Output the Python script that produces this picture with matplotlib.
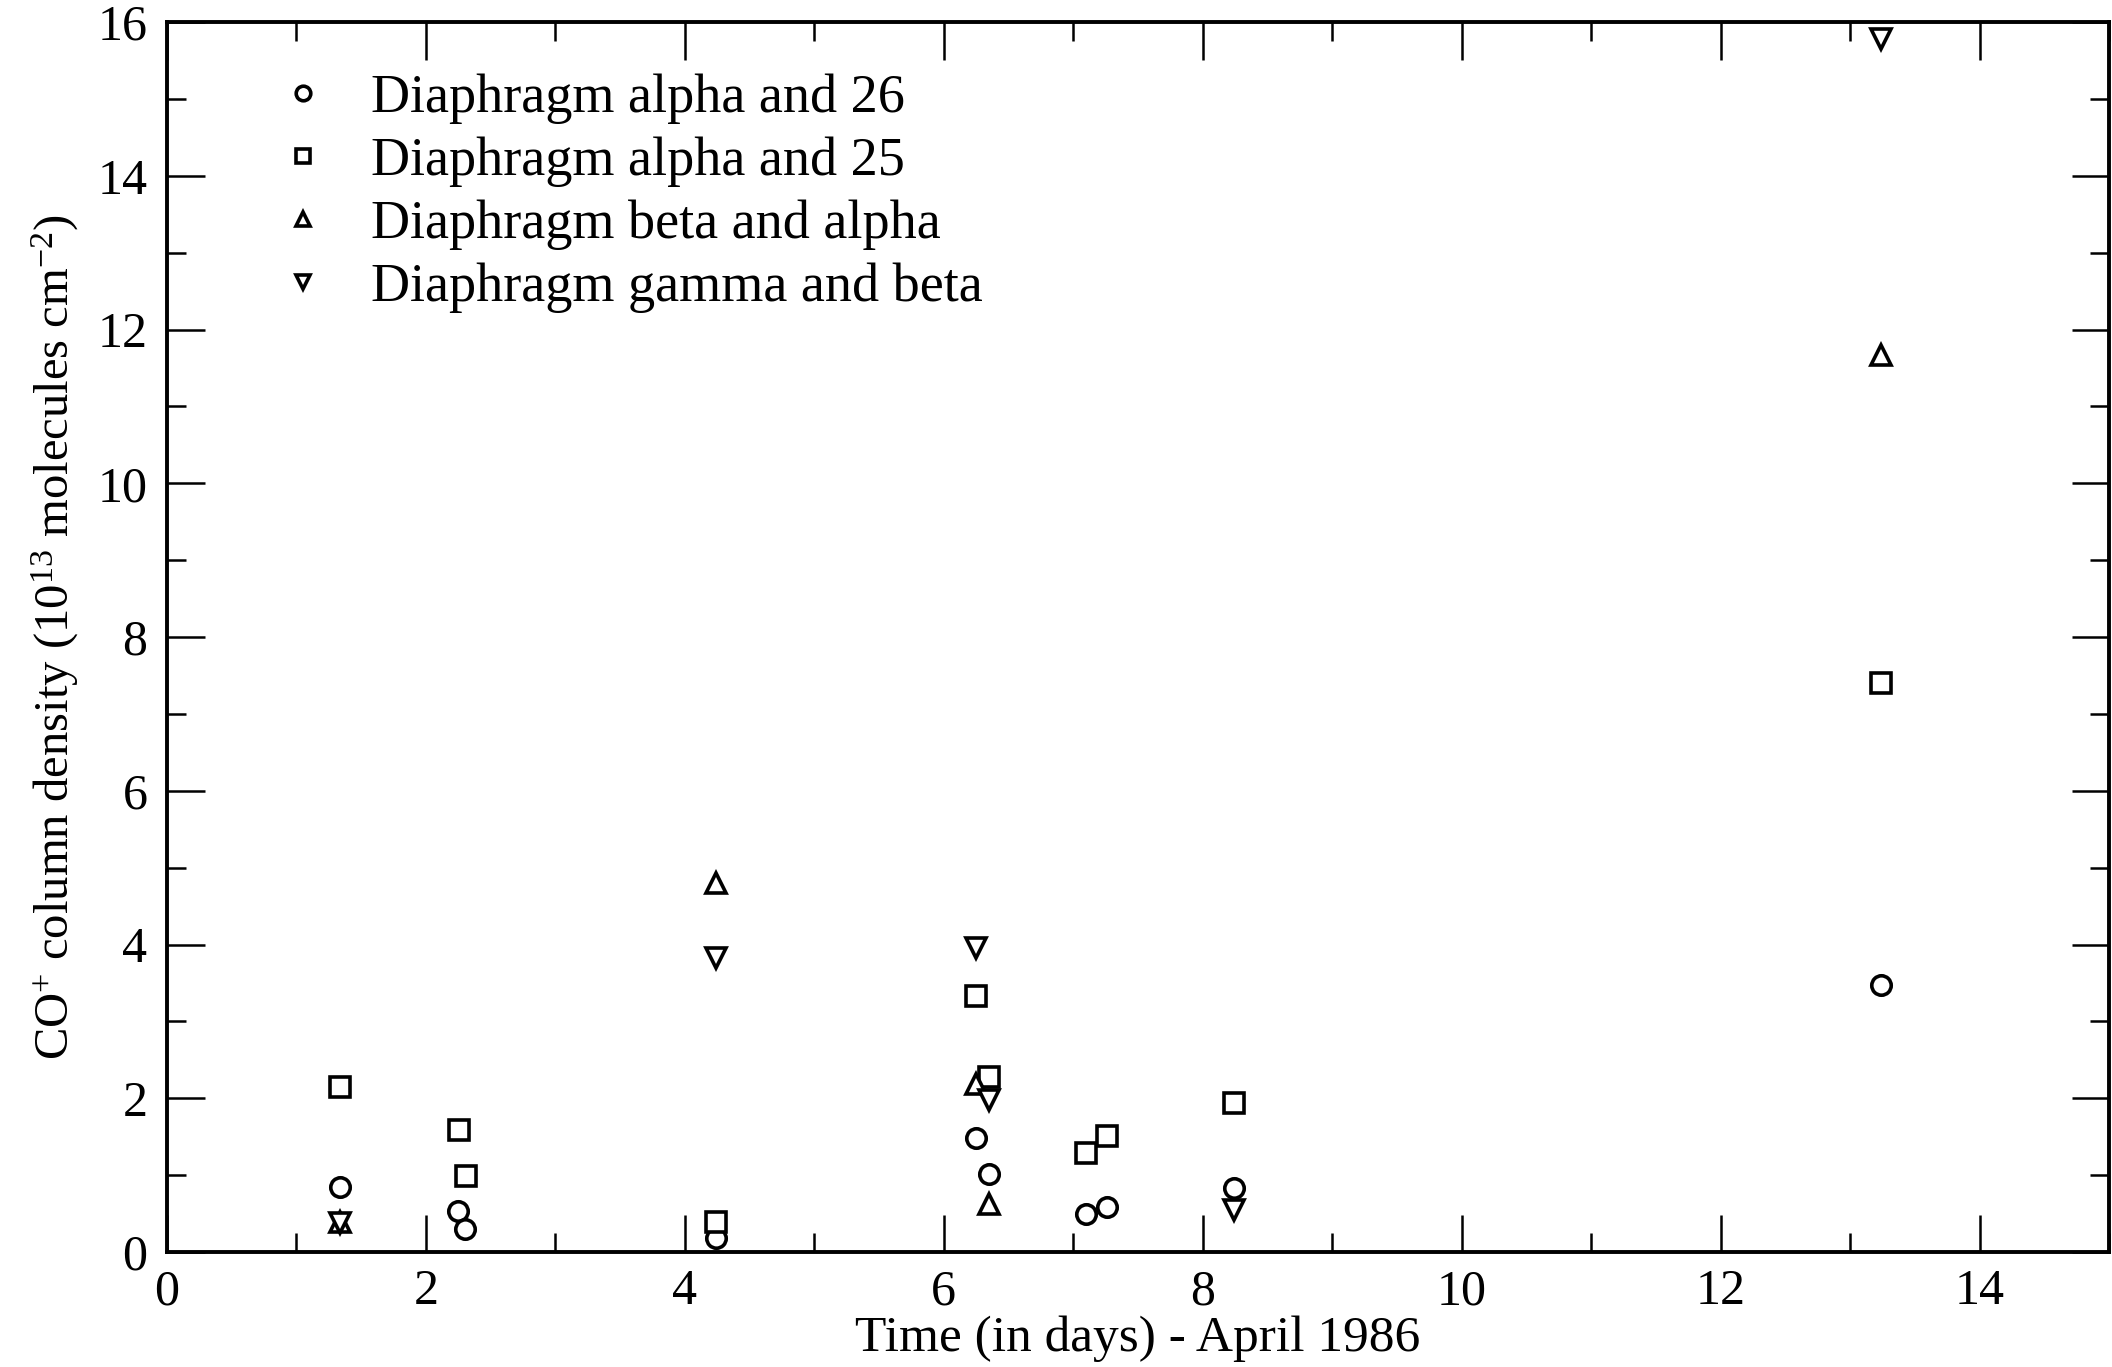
import matplotlib
matplotlib.use("Agg")
import matplotlib.pyplot as plt
from matplotlib.ticker import MultipleLocator

plt.rcParams['font.family'] = ['Liberation Serif', 'DejaVu Serif']
plt.rcParams['mathtext.fontset'] = 'custom'
plt.rcParams['mathtext.rm'] = 'Liberation Serif'
plt.rcParams['mathtext.it'] = 'Liberation Serif:italic'

# CO+ column densities per diaphragm pair (1e13 molecules cm^-2)
t_a26 = [1.34, 2.25, 2.30, 4.24, 6.25, 6.35, 7.10, 7.26, 8.24, 13.24]
n_a26 = [0.85, 0.53, 0.30, 0.18, 1.48, 1.01, 0.49, 0.59, 0.83, 3.47]

t_a25 = [1.34, 2.26, 2.31, 4.24, 6.25, 6.35, 7.10, 7.26, 8.24, 13.24]
n_a25 = [2.15, 1.59, 0.99, 0.39, 3.33, 2.28, 1.29, 1.51, 1.94, 7.40]

t_ba = [1.34, 4.24, 6.25, 6.35, 13.24]
n_ba = [0.39, 4.80, 2.19, 0.62, 11.67]

t_gb = [1.34, 4.24, 6.25, 6.35, 8.24, 13.24]
n_gb = [0.38, 3.82, 3.95, 1.98, 0.55, 15.78]

labels = ["Diaphragm alpha and 26", "Diaphragm alpha and 25",
          "Diaphragm beta and alpha", "Diaphragm gamma and beta"]

fig = plt.figure(figsize=(21.12, 13.67), dpi=100)
ax = fig.add_axes([0.079, 0.0841, 0.9196, 0.8998])

style = dict(linestyle='none', markersize=14, markeredgewidth=2.6,
             markeredgecolor='black', markerfacecolor='white')
ax.plot(t_a26, n_a26, marker='o', label=labels[0], **style)
ax.plot(t_a25, n_a25, marker='s', label=labels[1], **style)
ax.plot(t_ba, n_ba, marker='^', label=labels[2], **style)
ax.plot(t_gb, n_gb, marker='v', label=labels[3], **style)

ax.set_xlim(0, 15)
ax.set_ylim(0, 16)
ax.xaxis.set_major_locator(MultipleLocator(2))
ax.xaxis.set_minor_locator(MultipleLocator(1))
ax.yaxis.set_major_locator(MultipleLocator(2))
ax.yaxis.set_minor_locator(MultipleLocator(1))
ax.tick_params(which='both', direction='in', top=True, right=True,
               width=1.8, labelsize=36)
ax.tick_params(axis='x', pad=12)
ax.tick_params(axis='y', pad=14)
ax.tick_params(which='major', length=27)
ax.tick_params(which='minor', length=13.5)
for sp in ax.spines.values():
    sp.set_linewidth(2.8)

ax.set_xlabel("Time (in days) - April 1986", fontsize=37, labelpad=0)
ax.set_ylabel(r"CO$^{+}$ column density (10$^{13}$ molecules cm$^{-2}$)",
              fontsize=35, labelpad=12)

ax.legend(loc='upper left', bbox_to_anchor=(0.056, 0.958), frameon=False,
          fontsize=39, handlelength=1.0, handletextpad=0.77, borderpad=0,
          borderaxespad=0, labelspacing=0.227, markerscale=0.75)

fig.savefig("out.png", dpi=100)
